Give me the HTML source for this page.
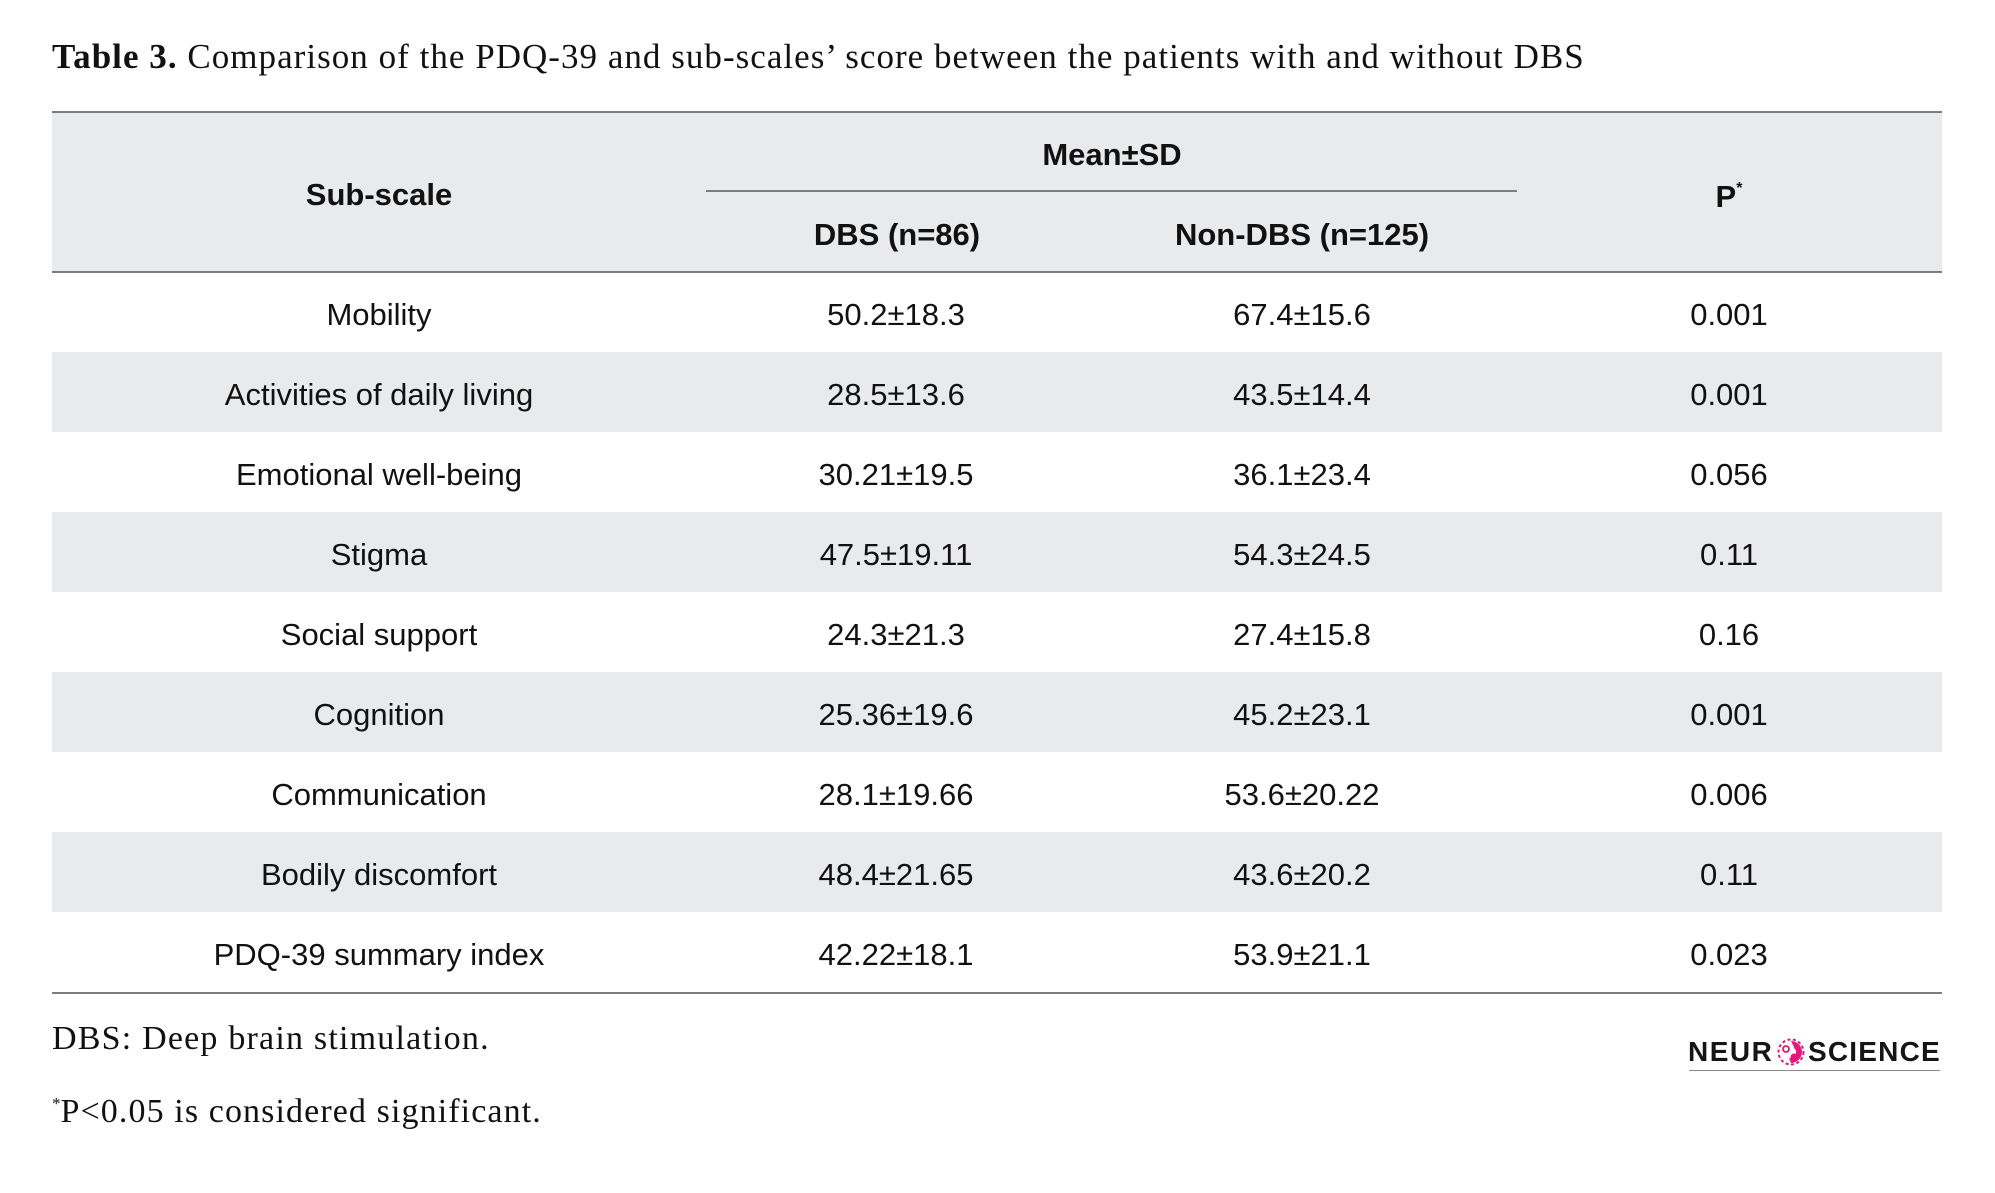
<!DOCTYPE html>
<html>
<head>
<meta charset="utf-8">
<style>
html,body{margin:0;padding:0;background:#fff;}
body{width:1995px;height:1193px;position:relative;overflow:hidden;color:#111;}
.a{position:absolute;white-space:nowrap;}
.serif{font-family:"Liberation Serif",serif;}
.sans{font-family:"Liberation Sans",sans-serif;}
.hd{font-family:"Liberation Sans",sans-serif;font-weight:bold;font-size:31px;line-height:31px;text-align:center;width:400px;}
.cell{font-family:"Liberation Sans",sans-serif;font-size:31px;line-height:80px;text-align:center;width:400px;}
.line{position:absolute;background:#7d7d7d;}
.band{position:absolute;left:52px;width:1890px;background:#e9eaec;}
</style>
</head>
<body>

<div class="a serif" style="left:52px;top:38.7px;font-size:35px;line-height:35px;letter-spacing:1.03px;"><b>Table 3.</b> Comparison of the PDQ-39 and sub-scales’ score between the patients with and without DBS</div>

<!-- header band -->
<div class="band" style="top:112px;height:160px;"></div>
<div class="line" style="left:52px;width:1890px;top:111px;height:2px;"></div>
<div class="line" style="left:52px;width:1890px;top:271px;height:2px;"></div>
<div class="line" style="left:706px;width:811px;top:190px;height:2px;"></div>

<div class="a hd" style="left:179px;top:179px;">Sub-scale</div>
<div class="a hd" style="left:912px;top:139px;">Mean±SD</div>
<div class="a hd" style="left:697px;top:219px;">DBS (n=86)</div>
<div class="a hd" style="left:1102px;top:219px;">Non-DBS (n=125)</div>
<div class="a hd" style="left:1529px;top:181px;">P<span style="font-size:16px;position:relative;top:-14px;">*</span></div>

<!-- striped rows -->
<div class="band" style="top:352px;height:80px;"></div>
<div class="band" style="top:512px;height:80px;"></div>
<div class="band" style="top:672px;height:80px;"></div>
<div class="band" style="top:832px;height:80px;"></div>

<!-- row 1 -->
<div class="a cell" style="left:179px;top:275px;">Mobility</div>
<div class="a cell" style="left:696px;top:275px;">50.2±18.3</div>
<div class="a cell" style="left:1102px;top:275px;">67.4±15.6</div>
<div class="a cell" style="left:1529px;top:275px;">0.001</div>
<!-- row 2 -->
<div class="a cell" style="left:179px;top:355px;">Activities of daily living</div>
<div class="a cell" style="left:696px;top:355px;">28.5±13.6</div>
<div class="a cell" style="left:1102px;top:355px;">43.5±14.4</div>
<div class="a cell" style="left:1529px;top:355px;">0.001</div>
<!-- row 3 -->
<div class="a cell" style="left:179px;top:435px;">Emotional well-being</div>
<div class="a cell" style="left:696px;top:435px;">30.21±19.5</div>
<div class="a cell" style="left:1102px;top:435px;">36.1±23.4</div>
<div class="a cell" style="left:1529px;top:435px;">0.056</div>
<!-- row 4 -->
<div class="a cell" style="left:179px;top:515px;">Stigma</div>
<div class="a cell" style="left:696px;top:515px;">47.5±19.11</div>
<div class="a cell" style="left:1102px;top:515px;">54.3±24.5</div>
<div class="a cell" style="left:1529px;top:515px;">0.11</div>
<!-- row 5 -->
<div class="a cell" style="left:179px;top:595px;">Social support</div>
<div class="a cell" style="left:696px;top:595px;">24.3±21.3</div>
<div class="a cell" style="left:1102px;top:595px;">27.4±15.8</div>
<div class="a cell" style="left:1529px;top:595px;">0.16</div>
<!-- row 6 -->
<div class="a cell" style="left:179px;top:675px;">Cognition</div>
<div class="a cell" style="left:696px;top:675px;">25.36±19.6</div>
<div class="a cell" style="left:1102px;top:675px;">45.2±23.1</div>
<div class="a cell" style="left:1529px;top:675px;">0.001</div>
<!-- row 7 -->
<div class="a cell" style="left:179px;top:755px;">Communication</div>
<div class="a cell" style="left:696px;top:755px;">28.1±19.66</div>
<div class="a cell" style="left:1102px;top:755px;">53.6±20.22</div>
<div class="a cell" style="left:1529px;top:755px;">0.006</div>
<!-- row 8 -->
<div class="a cell" style="left:179px;top:835px;">Bodily discomfort</div>
<div class="a cell" style="left:696px;top:835px;">48.4±21.65</div>
<div class="a cell" style="left:1102px;top:835px;">43.6±20.2</div>
<div class="a cell" style="left:1529px;top:835px;">0.11</div>
<!-- row 9 -->
<div class="a cell" style="left:179px;top:915px;">PDQ-39 summary index</div>
<div class="a cell" style="left:696px;top:915px;">42.22±18.1</div>
<div class="a cell" style="left:1102px;top:915px;">53.9±21.1</div>
<div class="a cell" style="left:1529px;top:915px;">0.023</div>

<div class="line" style="left:52px;width:1890px;top:992px;height:2px;"></div>

<!-- footer -->
<div class="a serif" style="left:52px;top:1021.5px;font-size:34px;line-height:34px;letter-spacing:1.2px;">DBS: Deep brain stimulation.</div>
<div class="a serif" style="left:52px;top:1094.5px;font-size:34px;line-height:34px;letter-spacing:1.1px;"><span style="font-size:17px;position:relative;top:-13px;letter-spacing:0;">*</span>P&lt;0.05 is considered significant.</div>

<!-- logo -->
<div class="a sans" style="left:1688px;top:1038px;font-size:28px;line-height:28px;font-weight:bold;letter-spacing:1.5px;color:#151515;">NEUR</div>
<svg class="a" style="left:1776px;top:1038px;" width="30" height="28" viewBox="0 0 30 28">
  <circle cx="15" cy="14" r="12.5" fill="none" stroke="#e5177b" stroke-width="2" stroke-dasharray="3 2.5"/>
  <path d="M15 3 A11 11 0 0 1 26 14 A11 11 0 0 1 15 25 L13 20 A6 6 0 0 0 20 13 Z" fill="#e5177b"/>
  <circle cx="10" cy="11" r="3" fill="none" stroke="#e5177b" stroke-width="1.8"/>
  <circle cx="20" cy="9" r="2" fill="#e5177b"/>
  <circle cx="18" cy="19" r="3.5" fill="#e5177b"/>
</svg>
<div class="a sans" style="left:1808px;top:1038px;font-size:28px;line-height:28px;font-weight:bold;letter-spacing:1.2px;color:#151515;">SCIENCE</div>
<div class="a" style="left:1689px;top:1070px;width:251px;height:1px;background:#8a8a8a;"></div>

</body>
</html>
